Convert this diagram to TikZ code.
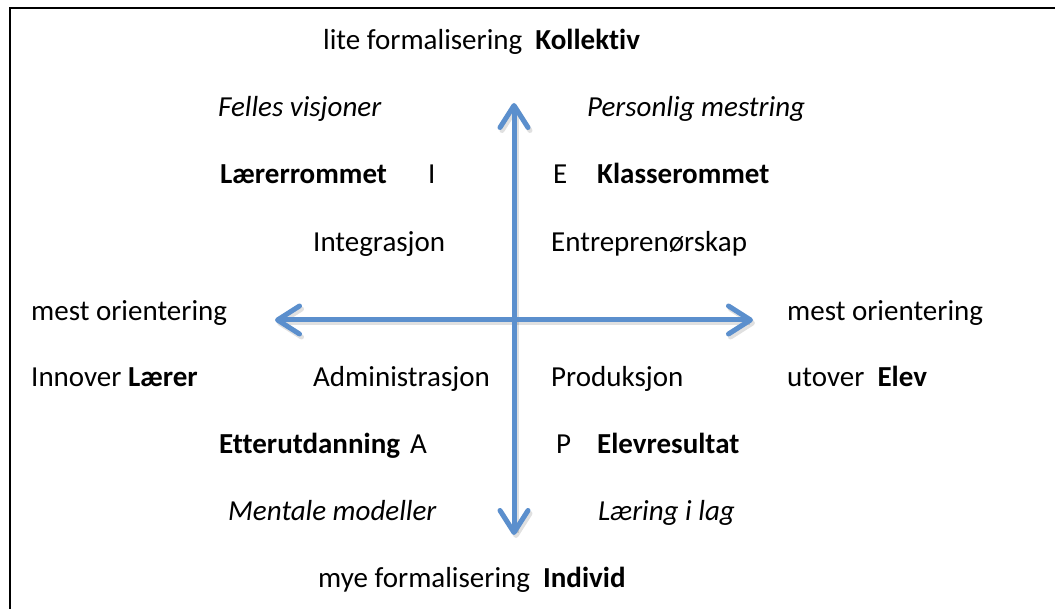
\documentclass[tikz,border=0pt]{standalone}
\usepackage{fontspec}
\setmainfont{Carlito}[Ligatures=NoCommon]
\usetikzlibrary{arrows.meta}
\definecolor{axisblue}{RGB}{91,143,205}
\tikzset{
  lbl/.style={anchor=base west, inner sep=0pt, font=\fontsize{29}{34}\selectfont},
  axis/.style={line width=5pt, draw=axisblue,
    {Straight Barb[length=22pt,width=28pt,line join=round,line cap=round]}-{Straight Barb[length=22pt,width=28pt,line join=round,line cap=round]}},
  axisshadow/.style={line width=5pt, draw=black, opacity=0.12,
    {Straight Barb[length=22pt,width=28pt,line join=round,line cap=round]}-{Straight Barb[length=22pt,width=28pt,line join=round,line cap=round]}},
}
\begin{document}
\begin{tikzpicture}[x=1pt,y=1pt]
\useasboundingbox (0,0) rectangle (1055,609);
\clip (0,0) rectangle (1055,609);
\fill[white] (0,0) rectangle (1055,609);
% frame
\draw[line width=2pt] (10,-20) -- (10,601) -- (1080,601);

% axis end points
\coordinate (top) at (514,506);
\coordinate (bot) at (514,74);
\coordinate (lft) at (275,289);
\coordinate (rgt) at (753,289);
\coordinate (tops) at (516,503);
\coordinate (bots) at (516,71);
\coordinate (lfts) at (277,286);
\coordinate (rgts) at (755,286);

\draw[axisshadow] (bots) -- (tops);
\draw[axisshadow] (lfts) -- (rgts);
\draw[axis] (bot) -- (top);
\draw[axis] (lft) -- (rgt);

% labels
\node[lbl] (kol) at (323,559) {lite formalisering\ \ \textbf{Kollektiv}};
\node[lbl] (fv) at (218,492) {\itshape Felles visjoner};
\node[lbl] (pm) at (587,492) {\itshape Personlig mestring};
\node[lbl] (lr) at (220,425) {\textbf{Lærerrommet}};
\node[lbl] (li) at (428,425) {I};
\node[lbl] (le) at (553,425) {E};
\node[lbl] (kr) at (597,425) {\textbf{Klasserommet}};
\node[lbl] (int) at (313,357) {Integrasjon};
\node[lbl] (ent) at (551,357) {Entreprenørskap};
\node[lbl] (mol) at (31,288) {mest orientering};
\node[lbl] (mor) at (787,288) {mest orientering};
\node[lbl] (inn) at (31,222) {Innover \textbf{Lærer}};
\node[lbl] (adm) at (313,222) {Administrasjon};
\node[lbl] (pro) at (551,222) {Produksjon};
\node[lbl] (utv) at (787,222) {utover\ \ \textbf{Elev}};
\node[lbl] (etu) at (219,155) {\textbf{Etterutdanning}};
\node[lbl] (la) at (410,155) {A};
\node[lbl] (lp) at (556,155) {P};
\node[lbl] (er) at (597,155) {\textbf{Elevresultat}};
\node[lbl] (mm) at (228,88) {\itshape Mentale modeller};
\node[lbl] (lil) at (598,88) {\itshape Læring i lag};
\node[lbl] (ind) at (318,21) {mye formalisering\ \ \textbf{Individ}};
\end{tikzpicture}
\end{document}
